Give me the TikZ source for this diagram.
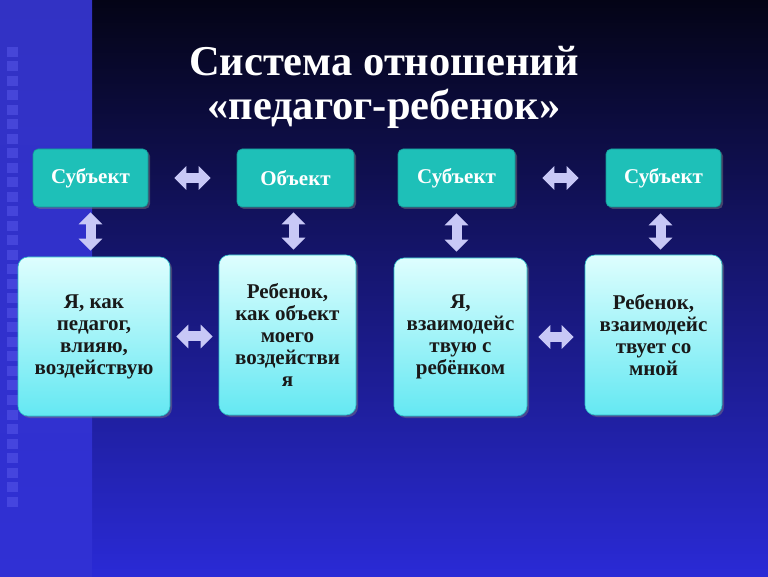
\documentclass[tikz,border=0pt]{standalone}
\usepackage{fontspec}
\setmainfont{Liberation Serif}
\usetikzlibrary{arrows.meta,shadows}
\definecolor{bgtop}{RGB}{4,4,22}
\definecolor{bgbot}{RGB}{42,42,214}
\definecolor{striptop}{RGB}{50,50,196}
\definecolor{stripmid}{RGB}{22,22,110}
\definecolor{stripbot}{RGB}{48,48,212}
\definecolor{sqcol}{RGB}{95,95,240}
\definecolor{tealfill}{RGB}{30,192,184}
\definecolor{tealline}{RGB}{20,150,150}
\definecolor{cyantop}{RGB}{222,254,254}
\definecolor{cyanbot}{RGB}{100,232,242}
\definecolor{cyanline}{RGB}{40,190,200}
\definecolor{arrowfill}{RGB}{200,200,246}
\definecolor{boxtext}{RGB}{25,25,25}
\begin{document}
\begin{tikzpicture}[x=1pt,y=1pt,
  topbox/.style={draw=tealline, line width=0.6pt, fill=tealfill, rounded corners=5pt,
    minimum height=58pt, text=white, inner sep=0pt,
    font=\bfseries\fontsize{21}{22}\selectfont,
    drop shadow={opacity=0.45, shadow xshift=2pt, shadow yshift=-2pt}},
  lowbox/.style={draw=cyanline, line width=0.6pt, top color=cyantop, bottom color=cyanbot,
    rounded corners=10pt, text=boxtext, align=center, inner sep=0pt,
    font=\bfseries\fontsize{21}{22}\selectfont,
    drop shadow={opacity=0.45, shadow xshift=2pt, shadow yshift=-2pt}},
  dblarrow/.style={draw=arrowfill, line width=10pt,
    {Triangle[width=23pt,length=12pt,fill=arrowfill]}-{Triangle[width=23pt,length=12pt,fill=arrowfill]}},
  titletext/.style={text=white, align=center, font=\bfseries\fontsize{42.5}{44}\selectfont}
]
\useasboundingbox (0,0) rectangle (768,576);
% background
\shade[top color=bgtop, bottom color=bgbot] (0,0) rectangle (768,576);
\shade[top color=striptop, middle color=stripmid, bottom color=stripbot] (0,0) rectangle (92,576);
\foreach \i in {0,...,31}
  \fill[sqcol, opacity=0.45] (7,{529-\i*14.5}) rectangle ++(11,-10);

% title
\node[titletext] (title) at (384,489) {Система отношений\\«педагог-ребенок»};

% top boxes
\node[topbox, minimum width=115pt] (s1) at (90.5,398) {Субъект};
\node[topbox, minimum width=117pt] (o2) at (295.5,398) {Объект};
\node[topbox, minimum width=117pt] (s3) at (456.5,398) {Субъект};
\node[topbox, minimum width=115pt] (s4) at (663.5,398) {Субъект};

% lower boxes
\node[lowbox, minimum width=152pt, minimum height=159pt] (b1) at (94,239.5)
  {Я, как\\педагог,\\влияю,\\воздействую};
\node[lowbox, minimum width=137pt, minimum height=160pt] (b2) at (287.5,241)
  {Ребенок,\\как объект\\моего\\воздействи\\я};
\node[lowbox, minimum width=133pt, minimum height=158pt] (b3) at (460.5,239)
  {Я,\\взаимодейс\\твую с\\ребёнком};
\node[lowbox, minimum width=137pt, minimum height=160pt] (b4) at (653.5,241)
  {Ребенок,\\взаимодейс\\твует со\\мной};

% arrows
\draw[dblarrow, shorten <=26pt, shorten >=26pt] (s1.east) -- (o2.west);
\draw[dblarrow, shorten <=27pt, shorten >=27pt] (s3.east) -- (s4.west);
\draw[dblarrow, shorten <=6pt, shorten >=6pt] (b1.east) -- (b1.east -| b2.west);
\draw[dblarrow, shorten <=11pt, shorten >=11pt] (b3.east) -- (b3.east -| b4.west);
\draw[dblarrow, shorten <=5pt, shorten >=6pt] (s1.south) -- (s1.south |- b1.north);
\draw[dblarrow, shorten <=5pt, shorten >=5pt] ([xshift=-2pt]o2.south) -- ([xshift=-2pt]o2.south |- b2.north);
\draw[dblarrow, shorten <=6pt, shorten >=6pt] (s3.south) -- (s3.south |- b3.north);
\draw[dblarrow, shorten <=6pt, shorten >=5pt] ([xshift=-3pt]s4.south) -- ([xshift=-3pt]s4.south |- b4.north);
\end{tikzpicture}
\end{document}
